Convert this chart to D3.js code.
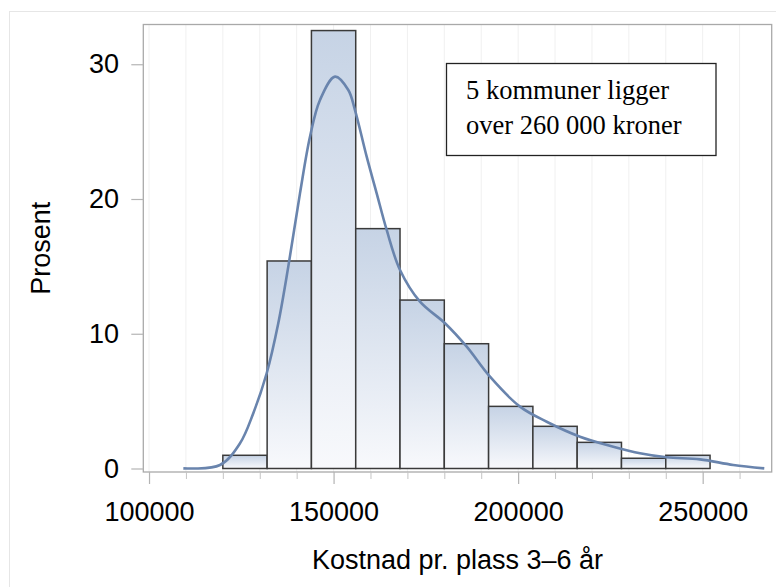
<!DOCTYPE html>
<html>
<head>
<meta charset="utf-8">
<script src="https://cdn.jsdelivr.net/npm/d3@7"></script>
<style>
  body { margin: 0; background: #fff; }
  svg { display: block; }
</style>
</head>
<body>
<div id="chart"></div>
<script>
// histogram: bin edges start at 120000, width 12000
let binStart = 120000;
let binWidth = 12000;
let binPercent = [0.98, 15.4, 32.5, 17.8, 12.5, 9.26, 4.61, 3.13, 1.94, 0.76, 0.98];

// kernel density curve
let kdeX = [109300, 119230, 124650, 128250, 131880, 135020, 137730, 140900, 143610, 146320,
  150390, 153990, 155800, 158970, 161680, 164390, 168000, 173410, 180190, 186070,
  192380, 200510, 207740, 216760, 225780, 233020, 240250, 249270, 258290, 266690];
let kdeY = [0.01, 0.26, 1.87, 4.10, 7.07, 10.78, 14.98, 20.42, 24.62, 27.35,
  29.08, 28.09, 26.6, 23.14, 20.42, 17.7, 14.73, 12.38, 10.78, 9.04,
  6.81, 4.59, 3.47, 2.36, 1.62, 1.13, 0.83, 0.68, 0.26, 0.01];

let xMajor = [100000, 150000, 200000, 250000];
let xMinor = d3.range(100000, 260001, 10000);
let yTicks = [0, 10, 20, 30];
let note = ["5 kommuner ligger", "over 260 000 kroner"];

let svg = d3.select("#chart").append("svg")
  .attr("width", 776)
  .attr("height", 587);

let plot = {left: 143.3, right: 771.7, top: 24.5, bottom: 472};

let x = d3.scaleLinear()
  .domain([98450, 268700])
  .range([plot.left, plot.right]);

let y = d3.scaleLinear()
  .domain([-0.26, 32.95])
  .range([plot.bottom, plot.top]);

// outer border
svg.append("rect")
  .attr("x", 9.5).attr("y", 11.5)
  .attr("width", 800).attr("height", 600)
  .attr("fill", "none")
  .attr("stroke", "#e6e6e6");

let defs = svg.append("defs");
let grad = defs.append("linearGradient")
  .attr("id", "barfill")
  .attr("x1", 0).attr("y1", 0).attr("x2", 0).attr("y2", 1);
grad.append("stop").attr("offset", "0%").attr("stop-color", "#c6d3e5");
grad.append("stop").attr("offset", "100%").attr("stop-color", "#f8f9fc");

// vertical grid
svg.append("g")
  .selectAll("line")
  .data(xMinor)
  .enter().append("line")
  .attr("x1", d => x(d)).attr("x2", d => x(d))
  .attr("y1", plot.top).attr("y2", plot.bottom)
  .attr("stroke", "#f0f0f0")
  .attr("stroke-width", 1);

// bars
svg.append("g")
  .selectAll("rect")
  .data(binPercent)
  .enter().append("rect")
  .attr("x", (d, i) => x(binStart + i * binWidth))
  .attr("width", (d, i) => x(binStart + (i + 1) * binWidth) - x(binStart + i * binWidth))
  .attr("y", d => y(d))
  .attr("height", d => y(0) - y(d))
  .attr("fill", "url(#barfill)")
  .attr("stroke", "#3a3a3a")
  .attr("stroke-width", 1.5);

// density curve
let kde = kdeX.map((v, i) => [v, kdeY[i]]);
let line = d3.line()
  .x(d => x(d[0]))
  .y(d => y(d[1]))
  .curve(d3.curveCatmullRom);

svg.append("path")
  .datum(kde)
  .attr("d", line)
  .attr("fill", "none")
  .attr("stroke", "#6984ad")
  .attr("stroke-width", 2.6);

// frame
svg.append("rect")
  .attr("x", plot.left).attr("y", plot.top)
  .attr("width", plot.right - plot.left)
  .attr("height", plot.bottom - plot.top)
  .attr("fill", "none")
  .attr("stroke", "#a9a9a9")
  .attr("stroke-width", 1.3);

// x axis
let xAxis = d3.axisBottom(x).tickValues(xMajor)
  .tickFormat(d3.format("d"))
  .tickSize(12).tickPadding(17.8);

let xa = svg.append("g")
  .attr("transform", "translate(0," + plot.bottom + ")")
  .call(xAxis);

svg.append("g")
  .attr("transform", "translate(0," + plot.bottom + ")")
  .call(d3.axisBottom(x).tickValues(xMinor.filter(d => xMajor.indexOf(d) < 0)).tickSize(7).tickFormat(""))
  .call(g => g.select(".domain").remove())
  .selectAll("line").attr("stroke", "#c4c4c4");

xa.select(".domain").remove();
xa.selectAll("line").attr("stroke", "#b4b4b4").attr("stroke-width", 1.2);
xa.selectAll("text")
  .attr("fill", "#000")
  .style("font", "27px 'Liberation Sans', Arial, sans-serif");

// y axis
let ya = svg.append("g")
  .attr("transform", "translate(" + plot.left + ",0)")
  .call(d3.axisLeft(y).tickValues(yTicks).tickSize(12).tickPadding(12.3));

ya.select(".domain").remove();
ya.selectAll("line").attr("stroke", "#b4b4b4").attr("stroke-width", 1.2);
ya.selectAll("text")
  .attr("fill", "#000")
  .style("font", "27px 'Liberation Sans', Arial, sans-serif");

// axis titles
svg.append("text")
  .attr("x", (plot.left + plot.right) / 2)
  .attr("y", 569.3)
  .attr("text-anchor", "middle")
  .style("font", "27px 'Liberation Sans', Arial, sans-serif")
  .text("Kostnad pr. plass 3–6 år");

svg.append("text")
  .attr("transform", "translate(50," + (plot.top + plot.bottom) / 2 + ") rotate(-90)")
  .attr("text-anchor", "middle")
  .style("font", "27px 'Liberation Sans', Arial, sans-serif")
  .text("Prosent");

// annotation box
svg.append("rect")
  .attr("x", 446.5).attr("y", 63.5)
  .attr("width", 269.5).attr("height", 92)
  .attr("fill", "#fff")
  .attr("stroke", "#222")
  .attr("stroke-width", 1.3);

svg.append("g")
  .selectAll("text")
  .data(note)
  .enter().append("text")
  .attr("x", 466)
  .attr("y", (d, i) => 99 + i * 35)
  .style("font", "26.5px 'Liberation Serif', 'Times New Roman', serif")
  .attr("fill", "#000")
  .text(d => d);
</script>
</body>
</html>
